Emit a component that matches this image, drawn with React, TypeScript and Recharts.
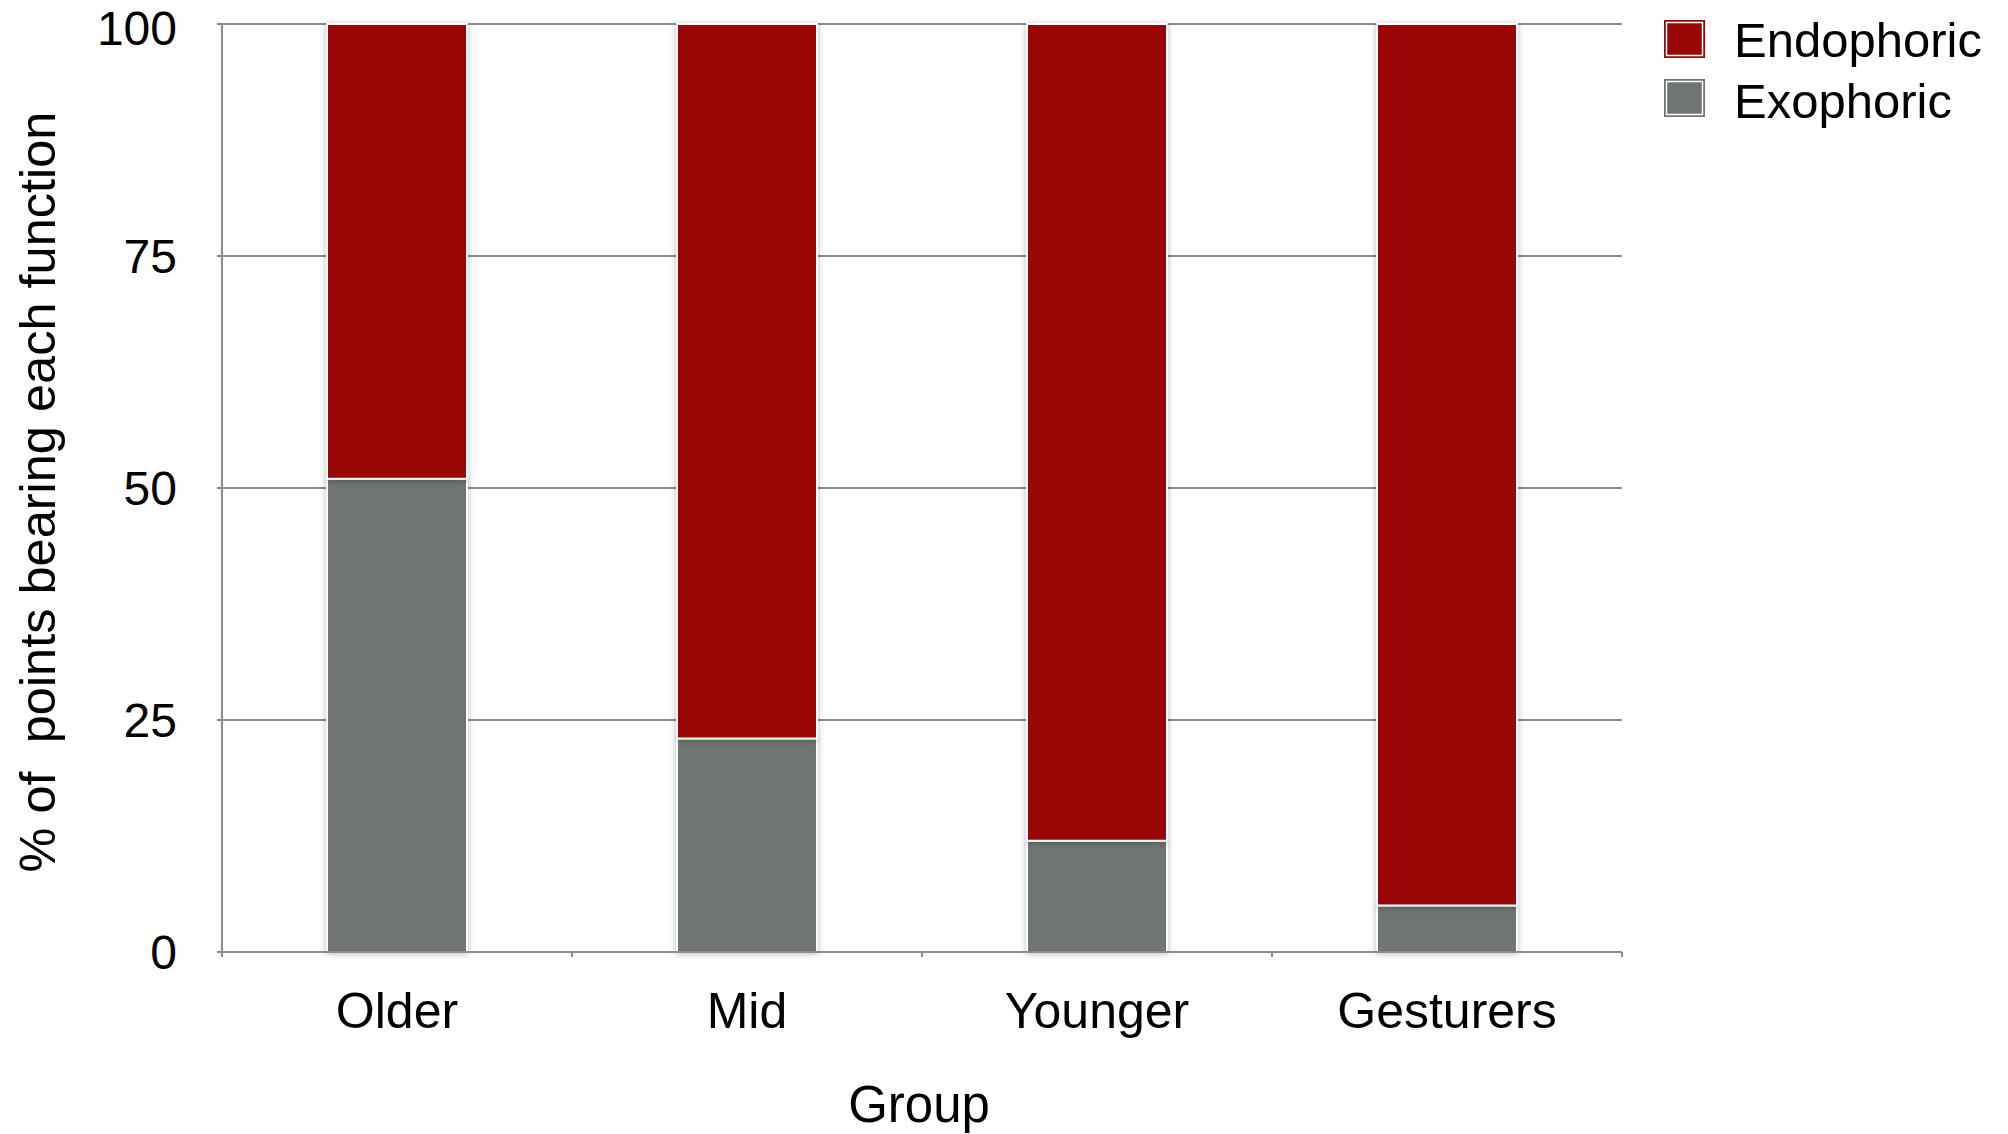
import React from 'react';
import { BarChart, Bar, XAxis, YAxis, CartesianGrid, Legend } from 'recharts';

const groups = ['Older', 'Mid', 'Younger', 'Gesturers'];
const exophoric = [51, 23, 12, 5];
const endophoric = [49, 77, 88, 95];
const groupPositions = [0.5, 1.5, 2.5, 3.5];
const xTicks = [0, 0.5, 1, 1.5, 2, 2.5, 3, 3.5, 4];
const yTicks = [0, 25, 50, 75, 100];
const seriesNames = ['Endophoric', 'Exophoric'];

const RED = '#990606';
const GREY = '#6f7571';
const GRID = '#8c8c8c';
const FONT = '"Liberation Sans", Arial, Helvetica, sans-serif';

const data = groups.map((g, i) => ({
  group: g,
  x: groupPositions[i],
  Exophoric: exophoric[i],
  Endophoric: endophoric[i],
}));

const XTick = (props: any) => {
  const { x, y, payload } = props;
  const v = payload.value as number;
  if (Number.isInteger(v)) {
    return <line x1={x} x2={x} y1={y - 40} y2={y - 35} stroke={GRID} strokeWidth={2} />;
  }
  const idx = groupPositions.indexOf(v);
  return (
    <text x={x} y={y} dy="0.71em" textAnchor="middle" fontSize={50} fontFamily={FONT} fill="#000">
      {groups[idx]}
    </text>
  );
};

const YTick = (props: any) => {
  const { x, y, payload } = props;
  const off = payload.value === 100 ? 21 : 17;
  return (
    <text x={x} y={y + off} textAnchor="end" fontSize={48} fontFamily={FONT} fill="#000">
      {payload.value}
    </text>
  );
};

const YLabel = (props: any) => {
  const vb = props.viewBox || { x: 0, y: 24, width: 222, height: 928 };
  const cy = vb.y + vb.height / 2 + 4;
  const cx = 55;
  return (
    <text
      x={cx}
      y={cy}
      textAnchor="middle"
      fontSize={50.5}
      fontFamily={FONT}
      fill="#000"
      transform={`rotate(-90, ${cx}, ${cy})`}
    >
      {'% of\u00a0 points bearing each function'}
    </text>
  );
};

const XLabel = (props: any) => {
  const vb = props.viewBox || { x: 222, y: 952, width: 1400, height: 182 };
  return (
    <text x={vb.x + vb.width / 2 - 3} y={1122} textAnchor="middle" fontSize={51} fontFamily={FONT} fill="#000">
      Group
    </text>
  );
};

const LegendContent = () => {
  const colors = [RED, GREY];
  return (
    <svg width={368} height={130} style={{ display: 'block', overflow: 'visible' }}>
      {seriesNames.map((name, i) => (
        <g key={name}>
          <rect x={24} y={20 + i * 59} width={41} height={38} fill={colors[i]} />
          <rect x={26.5} y={22.5 + i * 59} width={36} height={33} fill="none" stroke="#fff" strokeWidth={1.5} />
          <text x={94} y={57 + i * 61} fontSize={49} fontFamily={FONT} fill="#000">
            {name}
          </text>
        </g>
      ))}
    </svg>
  );
};

export default function App() {
  return (
    <div style={{ position: 'absolute', left: 0, top: 0, width: 2008, height: 1134, background: '#fff' }}>
      <style>{`.recharts-bar-rectangle path { filter: drop-shadow(0px 1px 3px rgba(0,0,0,0.28)); }`}</style>
      <BarChart
        width={2008}
        height={1134}
        data={data}
        margin={{ top: 24, right: 386, bottom: 0, left: 0 }}
      >
        <CartesianGrid vertical={false} stroke={GRID} strokeWidth={2} />
        <XAxis
          dataKey="x"
          type="number"
          domain={[0, 4]}
          ticks={xTicks}
          interval={0}
          height={182}
          axisLine={{ stroke: GRID, strokeWidth: 2 }}
          tickLine={false}
          tickSize={5}
          tickMargin={35}
          tick={<XTick />}
          label={<XLabel />}
        />
        <YAxis
          type="number"
          domain={[0, 100]}
          ticks={yTicks}
          interval={0}
          width={222}
          axisLine={{ stroke: GRID, strokeWidth: 2 }}
          tickLine={{ stroke: GRID, strokeWidth: 2 }}
          tickSize={5}
          tickMargin={40}
          tick={<YTick />}
          label={<YLabel />}
        />
        <Legend
          layout="horizontal"
          verticalAlign="middle"
          align="center"
          content={<LegendContent />}
          wrapperStyle={{ position: 'absolute', left: 1640, top: 0, width: 368, height: 130 }}
        />
        <Bar dataKey="Exophoric" stackId="a" fill={GREY} stroke="#fff" strokeWidth={2} barSize={140} isAnimationActive={false} />
        <Bar dataKey="Endophoric" stackId="a" fill={RED} stroke="#fff" strokeWidth={2} barSize={140} isAnimationActive={false} />
      </BarChart>
    </div>
  );
}
